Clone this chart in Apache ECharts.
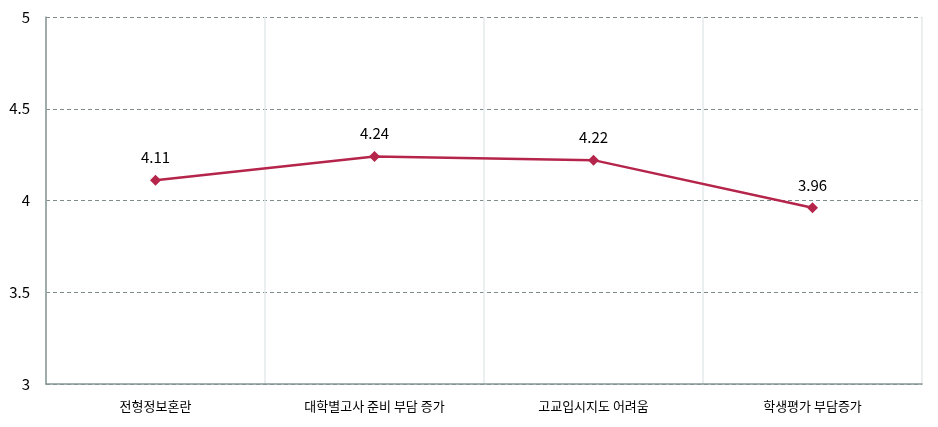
<!DOCTYPE html>
<html><head><meta charset="utf-8">
<script src="https://cdn.jsdelivr.net/npm/echarts@6/dist/echarts.min.js"></script>
<style>html,body{margin:0;padding:0;background:#fff}#c{width:938px;height:427px}</style>
</head><body><div id="c"></div>
<script>
const categories = ['전형정보혼란', '대학별고사 준비 부담 증가', '고교입시지도 어려움', '학생평가 부담증가'];
const values = [4.11, 4.24, 4.22, 3.96];
const yTicks = { min: 3, max: 5, interval: 0.5 };
const font = '"Noto Sans CJK KR", "Noto Sans", sans-serif';
const chart = echarts.init(document.getElementById('c'));
chart.setOption({
  animation: false,
  grid: { left: 46, right: 16, top: 17, bottom: 43, containLabel: false },
  xAxis: {
    type: 'category', data: categories, boundaryGap: true,
    axisLine: { lineStyle: { color: '#879595', width: 1.5 } },
    axisTick: { show: false },
    axisLabel: { color: '#000', fontFamily: font, fontSize: 13, margin: 16 },
    splitLine: { show: true, lineStyle: { color: '#e6eaea', width: 1.5 } }
  },
  yAxis: {
    type: 'value', min: yTicks.min, max: yTicks.max, interval: yTicks.interval,
    axisLine: { show: true, lineStyle: { color: '#879595', width: 1.5 } },
    axisTick: { show: false },
    axisLabel: { color: '#000', fontFamily: font, fontSize: 15, margin: 16,
      formatter: v => String(v) },
    splitLine: { show: true, lineStyle: { color: '#7f8c8c', type: [4, 3], width: 1 } }
  },
  series: [{
    type: 'line', data: values,
    symbol: 'diamond', symbolSize: 11,
    lineStyle: { color: '#b5254b', width: 2.5 },
    itemStyle: { color: '#b5254b' },
    label: { show: true, position: 'top', distance: 10, color: '#000', fontFamily: font, fontSize: 15,
      formatter: p => p.value.toFixed(2) }
  }]
});
</script></body></html>
